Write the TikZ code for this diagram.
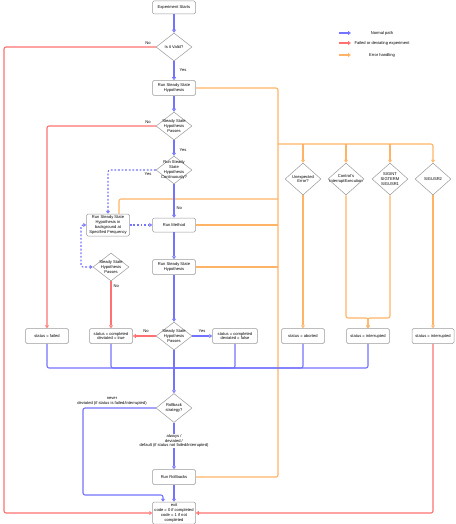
\documentclass[tikz,border=0pt]{standalone}
\usepackage{fontspec}
\setmainfont{Liberation Sans}
\usetikzlibrary{shapes.geometric,arrows.meta}
\definecolor{nblue}{HTML}{7373FF}
\definecolor{nred}{HTML}{FF7070}
\definecolor{norange}{HTML}{FFB366}
\definecolor{bord}{HTML}{9A9A9A}
\begin{document}
\begin{tikzpicture}[x=1pt,y=-1pt,
  font=\fontsize{4.1}{4.9}\selectfont,
  box/.style={draw=bord, fill=white, rounded corners=1.5pt, line width=0.5pt,
    minimum width=43pt, minimum height=15pt, inner sep=0.5pt, align=center},
  dia/.style={draw=bord, fill=white, diamond, line width=0.5pt,
    minimum width=36pt, minimum height=28pt, inner sep=0pt},
  tip/.style={-{Triangle[open,length=3pt,width=4pt]}},
  bitip/.style={{Triangle[open,length=3pt,width=4pt]}-{Triangle[open,length=3pt,width=4pt]}},
  nb/.style={draw=nblue, line width=1.1pt, rounded corners=2pt},
  nr/.style={draw=nred, line width=1.1pt, rounded corners=2pt},
  no/.style={draw=norange, line width=1.1pt, rounded corners=2pt},
  lbl/.style={inner sep=0.5pt, align=center}
]
\useasboundingbox (0,0) rectangle (455,524);

% nodes
\node[box, minimum height=13pt] (start) at (174,7.5) {Experiment Starts};
\node[dia, label={[align=center]center:Is it Valid?}] (valid) at (174,47) {};
\node[box] (ssh1) at (174,88) {Run Steady State\\Hypothesis};
\node[dia, label={[align=center]center:Steady State\\Hypothesis\\Passes}] (pass1) at (174,126) {};
\node[dia, label={[align=center]center:Run Steady\\State\\Hypothesis\\Continuously?}] (cont) at (174,170) {};
\node[box, minimum height=22pt] (bg) at (108,225) {Run Steady State\\Hypothesis in\\background at\\Specified Frequency};
\node[box, minimum height=14pt] (method) at (174,225) {Run Method};
\node[dia, label={[align=center]center:Steady State\\Hypothesis\\Passes}] (pass2) at (111,267) {};
\node[box] (ssh2) at (174,267) {Run Steady State\\Hypothesis};
\node[dia, label={[align=center]center:Steady State\\Hypothesis\\Passes}] (pass3) at (174,336) {};
\node[box] (failed) at (47,336) {status = failed};
\node[box] (dtrue) at (111,336) {status = completed\\deviated = true};
\node[box, minimum width=45pt] (dfalse) at (235,336) {status = completed\\deviated = false};
\node[dia, minimum height=32pt, label={[align=center]center:Unexpected\\Error?}] (unexp) at (303,179) {};
\node[dia, minimum height=32pt, label={[align=center]center:Control's\\InterruptExecution}] (ctrl) at (346,179) {};
\node[dia, minimum height=32pt, label={[align=center]center:SIGINT\\SIGTERM\\SIGUSR1}] (sig) at (390,179) {};
\node[dia, minimum height=32pt, label={[align=center]center:SIGUSR2}] (usr2) at (433,179) {};
\node[box] (aborted) at (303,336) {status = aborted};
\node[box] (intr1) at (368,336) {status = interrupted};
\node[box, minimum width=42pt] (intr2) at (433,336) {status = interrupted};
\node[dia, minimum height=29pt, label={[align=center]center:Rollback\\strategy?}] (rollback) at (174,408) {};
\node[box] (rollbacks) at (174,477) {Run Rollbacks};
\node[box, minimum height=22pt] (exit) at (174,513) {exit\\code = 0 if completed\\code = 1 if not\\completed};

% legend
\coordinate (lb1) at (339,33); \coordinate (lb2) at (351,33);
\coordinate (lr1) at (339,43); \coordinate (lr2) at (351,43);
\coordinate (lo1) at (339,55); \coordinate (lo2) at (351,55);
\draw[nb,tip] (lb1) -- (lb2);
\draw[nr,tip] (lr1) -- (lr2);
\draw[no,tip] (lo1) -- (lo2);
\node[lbl] (lt1) at (382,33) {Normal path};
\node[lbl] (lt2) at (382,43) {Failed or deviating experiment};
\node[lbl] (lt3) at (382,55) {Error handling};

% coordinates
\coordinate (sp1) at (278,88);
\coordinate (sp2) at (278,477);
\coordinate (hb) at (278,144);
\coordinate (bgo) at (278,199);
\coordinate (om) at (368,318);
\coordinate (mg) at (174,368);
\coordinate (nvc) at (83,495);
\coordinate (rc) at (4,513);
\coordinate (dl1) at (81,225);
\coordinate (dl2) at (81,267);

% orange
\draw[no] (ssh1.east) -- (sp1) -- (sp2) -- (rollbacks.east);
\draw[no] (method.east) -- (method.east -| sp1);
\draw[no] (ssh2.east) -- (ssh2.east -| sp1);
\draw[no] ([xshift=11pt]bg.north) |- (bgo);
\draw[no,tip] (hb) -| (usr2.north);
\draw[no,tip] (unexp.north |- hb) -- (unexp.north);
\draw[no,tip] (ctrl.north |- hb) -- (ctrl.north);
\draw[no,tip] (sig.north |- hb) -- (sig.north);
\draw[no,tip] (unexp.south) -- (aborted.north);
\draw[no,tip] (ctrl.south) |- (om) -- (intr1.north);
\draw[no,tip] (sig.south) |- (om) -- (intr1.north);
\draw[no,tip] (usr2.south) -- (intr2.north);

% blue
\draw[nb,tip] (start.south) -- (valid.north);
\draw[nb,tip] (valid.south) -- (ssh1.north);
\draw[nb,tip] (ssh1.south) -- (pass1.north);
\draw[nb,tip] (pass1.south) -- (cont.north);
\draw[nb,tip] (cont.south) -- (method.north);
\draw[nb,tip] (method.south) -- (ssh2.north);
\draw[nb,tip] (ssh2.south) -- (pass3.north);
\draw[nb,tip] (pass3.east) -- (dfalse.west);
\draw[nb] (failed.south) |- (mg);
\draw[nb] (dtrue.south) |- (mg);
\draw[nb] (dfalse.south) |- (mg);
\draw[nb] (aborted.south) |- (mg);
\draw[nb] (intr1.south) |- (mg);
\draw[nb,tip] (pass3.south) -- (rollback.north);
\draw[nb,tip] (rollback.south) -- (rollbacks.north);
\draw[nb,tip] (rollbacks.south) -- (exit.north);
\draw[nb,tip] (rollback.west) -| (nvc) -| ([xshift=-11pt]exit.north);
% dashed
\draw[nb,dash pattern=on 1.8pt off 1.8pt,tip] (cont.west) -| (bg.north);
\draw[nb,dash pattern=on 1.8pt off 1.8pt,tip] (bg.east) -- (method.west);
\draw[nb,dash pattern=on 1.8pt off 1.8pt,bitip] (bg.west) -- (dl1) -- (dl2) -- (pass2.west);

% red
\draw[nr,tip] (valid.west) -| (rc) -- (exit.west);
\draw[nr,tip] (pass1.west) -| (failed.north);
\draw[nr,tip] (pass2.south) -- (dtrue.north);
\draw[nr,tip] (pass3.west) -- (dtrue.east);
\draw[nr,tip] (intr2.south) |- (exit.east);

% edge labels
\node[lbl] (l1) at (148,43) {No};
\node[lbl, anchor=west] (l2) at (179,70) {Yes};
\node[lbl] (l3) at (148,122) {No};
\node[lbl, anchor=west] (l4) at (179,150) {Yes};
\node[lbl] (l5) at (148,174) {Yes};
\node[lbl, anchor=west] (l6) at (176,208) {No};
\node[lbl, anchor=west] (l7) at (113,286) {No};
\node[lbl] (l8) at (146,331) {No};
\node[lbl] (l9) at (202,331) {Yes};
\node[lbl] (l10) at (112,401.5) {never\\deviated (if status is failed/interrupted)};
\node[lbl, fill=white] (l11) at (174,441) {always /\\deviated /\\default (if status not failed/interrupted)};
\end{tikzpicture}
\end{document}
